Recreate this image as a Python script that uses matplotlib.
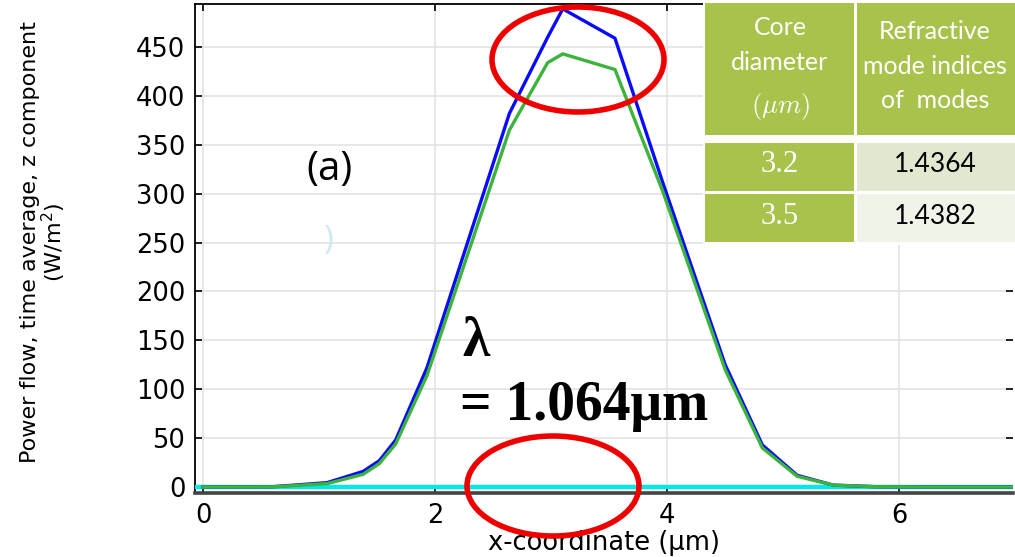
import matplotlib
matplotlib.use("Agg")
import matplotlib.pyplot as plt
from matplotlib.patches import Ellipse, Rectangle

# ---------------- data ----------------
x_coord = [0.0, 0.6, 1.07, 1.38, 1.52, 1.66, 1.93, 2.64, 2.97, 3.10, 3.55, 3.96, 4.50, 4.82, 5.12, 5.43, 5.80, 6.30, 7.00]
power_d32 = [0.0, 0.3, 4.5, 16, 27, 48, 122, 382, 460, 489, 459, 312, 125, 43, 12, 2, 0.3, 0.0, 0.0]
power_d35 = [0.0, 0.2, 3.5, 13, 24, 44, 114, 365, 434, 443, 427, 303, 120, 40, 11, 2, 0.3, 0.0, 0.0]
baseline_x = [-0.1, 7.1]
baseline_y = [0.0, 0.0]

x_ticks = [0, 2, 4, 6]
y_ticks = [0, 50, 100, 150, 200, 250, 300, 350, 400, 450]

table_header = ["Core\ndiameter", "Refractive\nmode indices\nof  modes"]
core_diameter = ["3.2", "3.5"]
mode_index = ["1.4364", "1.4382"]

W, H = 1015, 557
fig = plt.figure(figsize=(W / 100, H / 100), dpi=100)

def fx(px):
    return px / W

def fy(py):
    return 1 - py / H

ax = fig.add_axes([fx(195), fy(493), fx(1013) - fx(195), fy(4) - fy(493)])
ax.set_xlim(-0.069, 6.98)
ax.set_ylim(-6.1, 494)

ax.grid(True, color="#e3e3e3", linewidth=1.2, zorder=0)
ax.set_axisbelow(True)

ax.plot(baseline_x, baseline_y, color="#00e8e8", linewidth=3.2, zorder=3, solid_capstyle="butt")
ax.plot(x_coord, power_d32, color="#0a0aff", linewidth=2.4, zorder=4)
ax.plot(x_coord, power_d35, color="#3cb43c", linewidth=2.4, zorder=5)

ax.set_xticks(x_ticks)
ax.set_yticks(y_ticks)
ax.tick_params(direction="in", top=True, right=True, length=5, width=1.2,
               labelsize=18.5, pad=7, colors="black")
for lab in ax.get_xticklabels() + ax.get_yticklabels():
    lab.set_fontfamily("DejaVu Sans")
for s in ["left", "top", "right"]:
    ax.spines[s].set_linewidth(1.3)
ax.spines["right"].set_visible(False)
ax.spines["bottom"].set_linewidth(2.6)
ax.spines["bottom"].set_color("#444444")

ax.set_xlabel("x-coordinate (µm)", fontsize=18.5, labelpad=1)
ax.set_ylabel("Power flow, time average, z component\n(W/m$^2$)", fontsize=16,
              multialignment="center", linespacing=1.0)
ax.yaxis.set_label_coords(-0.155, 0.513)

# annotation texts
fig.text(fx(330), fy(170), "(a)", fontsize=29, family="Open Sans",
         ha="center", va="center", color="black")
fig.text(fx(328), fy(240), ")", fontsize=24, family="Open Sans",
         ha="center", va="center", color="#cfe9f2")
fig.text(fx(462), fy(342), "λ", fontsize=40, family="Liberation Serif",
         weight="bold", ha="left", va="center")
fig.text(fx(460), fy(406), "= 1.064μm", fontsize=40, family="Liberation Serif",
         weight="bold", ha="left", va="center")

# red ellipses
for cx, cy, w, h in [(578, 59.5, 172, 105), (553, 486, 172, 100)]:
    e = Ellipse((fx(cx), fy(cy)), w / W, h / H, transform=fig.transFigure,
                fill=False, edgecolor="#ee0000", linewidth=4.0, zorder=20)
    e.set_clip_on(False)
    fig.add_artist(e)

# table
green = "#a8c24b"
def cell(x0, y0, x1, y1, color):
    r = Rectangle((fx(x0), fy(y1)), fx(x1) - fx(x0), fy(y0) - fy(y1),
                  transform=fig.transFigure, facecolor=color, edgecolor="none", zorder=10)
    fig.add_artist(r)

cell(703, 1, 1015, 245, "white")
cell(705, 3, 854, 135, green)
cell(857, 3, 1015, 135, green)
cell(705, 143, 854, 191, green)
cell(857, 143, 1015, 191, "#e0e9d0")
cell(705, 194, 854, 242, green)
cell(857, 194, 1015, 242, "#f0f4e8")

hdr_kw = dict(fontsize=18, family="Lato", color="white", ha="center", va="center",
              linespacing=1.62, zorder=11)
fig.text(fx(780), fy(45), table_header[0], **hdr_kw)
fig.text(fx(780), fy(107), r"$(\mu m)$", fontsize=19, color="white", ha="center",
         va="center", math_fontfamily="cm", zorder=11)
fig.text(fx(935), fy(66), table_header[1], **hdr_kw)

for i, (d, n) in enumerate(zip(core_diameter, mode_index)):
    yc = [164, 216][i]
    fig.text(fx(780), fy(yc), d, fontsize=22, family="Liberation Serif",
             color="white", ha="center", va="center", zorder=11)
    fig.text(fx(935), fy(yc), n, fontsize=19, family="Lato", color="black",
             ha="center", va="center", zorder=11)

fig.savefig("out.png", dpi=100)
